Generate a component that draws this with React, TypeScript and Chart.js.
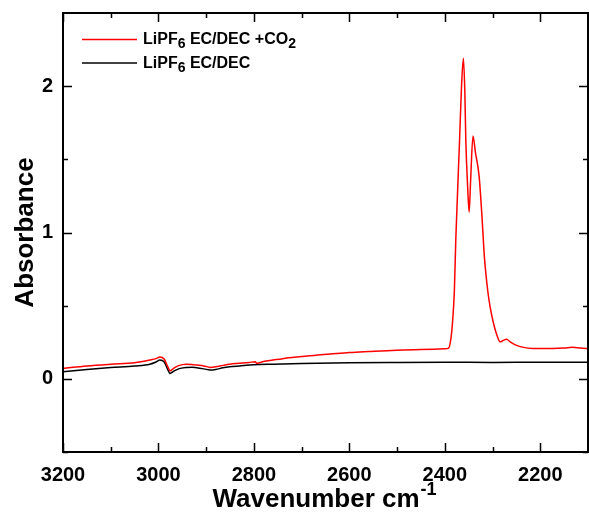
import React, { useEffect, useRef } from "react";
import { Chart, registerables } from "chart.js";

Chart.register(...registerables);

// Wavenumber (cm-1) and absorbance values
const co2Wavenumbers = [
  3200, 3150, 3100, 3050, 3018, 3005, 2997, 2988, 2980, 2976, 2968, 2958, 2941, 2930, 2920, 2905,
  2895, 2892, 2880, 2865, 2851, 2830, 2810, 2797, 2794, 2790, 2780, 2760, 2740, 2700, 2660, 2640,
  2600, 2560, 2502, 2450, 2400, 2392, 2387, 2384, 2380, 2377, 2373, 2369, 2365, 2361, 2358, 2356,
  2352, 2349, 2346, 2341, 2336, 2328, 2322, 2317, 2310, 2305, 2298, 2292, 2284, 2278, 2271, 2262,
  2251, 2235, 2216, 2174, 2150, 2133, 2115, 2100,
];
const co2Absorbance = [
  0.071, 0.088, 0.1, 0.11, 0.128, 0.138, 0.15, 0.135, 0.08, 0.055, 0.072, 0.09, 0.1, 0.098, 0.094, 0.088,
  0.08, 0.078, 0.082, 0.092, 0.1, 0.106, 0.112, 0.117, 0.106, 0.108, 0.118, 0.128, 0.138, 0.152, 0.165, 0.17,
  0.18, 0.187, 0.196, 0.2, 0.205, 0.21, 0.28, 0.38, 0.6, 0.95, 1.3, 1.64, 2.0, 2.19, 1.95, 1.63,
  1.3, 1.14, 1.35, 1.66, 1.55, 1.38, 1.1, 0.83, 0.6, 0.49, 0.38, 0.31, 0.253, 0.262, 0.27, 0.25,
  0.23, 0.215, 0.208, 0.207, 0.21, 0.215, 0.21, 0.207,
];

const baseWavenumbers = [
  3200, 3150, 3100, 3050, 3018, 3005, 2997, 2988, 2980, 2976, 2968, 2958, 2941, 2930, 2920, 2905,
  2895, 2892, 2880, 2865, 2851, 2830, 2800, 2760, 2700, 2600, 2500, 2400, 2300, 2200, 2100,
];
const baseAbsorbance = [
  0.048, 0.064, 0.077, 0.088, 0.1, 0.115, 0.128, 0.115, 0.06, 0.037, 0.052, 0.068, 0.078, 0.08, 0.076, 0.068,
  0.062, 0.06, 0.064, 0.075, 0.082, 0.088, 0.096, 0.1, 0.105, 0.11, 0.112, 0.113, 0.112, 0.114, 0.114,
];

const xTickValues = [3200, 3000, 2800, 2600, 2400, 2200];
const xMinorTicks = [3100, 2900, 2700, 2500, 2300];
const yTickValues = [0, 1, 2];
const yMinorTicks = [-0.5, 0.5, 1.5];

const seriesLabels = ["LiPF6 EC/DEC +CO2", "LiPF6 EC/DEC"];
const seriesColors = ["#ff0000", "#000000"];

const FONT = "'Liberation Sans', Arial, Helvetica, sans-serif";

const decorPlugin = {
  id: "decor",
  afterDraw(chart: any) {
    const { ctx, chartArea, scales } = chart;
    const { left, right, top, bottom } = chartArea;
    const xs = scales.x;
    const ys = scales.y;
    ctx.save();
    // frame
    ctx.strokeStyle = "#000";
    ctx.lineWidth = 2;
    ctx.strokeRect(left, top, right - left, bottom - top);
    // inward ticks
    ctx.lineWidth = 1.5;
    const major = 9;
    const minor = 5;
    const drawX = (v: number, len: number) => {
      const px = Math.round(xs.getPixelForValue(v)) + 0.5;
      ctx.beginPath();
      ctx.moveTo(px, bottom);
      ctx.lineTo(px, bottom - len);
      ctx.moveTo(px, top);
      ctx.lineTo(px, top + len);
      ctx.stroke();
    };
    const drawY = (v: number, len: number) => {
      const py = Math.round(ys.getPixelForValue(v)) + 0.5;
      ctx.beginPath();
      ctx.moveTo(left, py);
      ctx.lineTo(left + len, py);
      ctx.moveTo(right, py);
      ctx.lineTo(right - len, py);
      ctx.stroke();
    };
    xTickValues.forEach((v) => drawX(v, major));
    xMinorTicks.forEach((v) => drawX(v, minor));
    yTickValues.forEach((v) => drawY(v, major));
    yMinorTicks.forEach((v) => drawY(v, minor));

    // x axis title with superscript
    ctx.fillStyle = "#000";
    ctx.textBaseline = "alphabetic";
    ctx.textAlign = "left";
    const mainTxt = "Wavenumber cm";
    const supTxt = "-1";
    ctx.font = `bold 26px ${FONT}`;
    const wMain = ctx.measureText(mainTxt).width;
    ctx.font = `bold 18px ${FONT}`;
    const wSup = ctx.measureText(supTxt).width;
    const cx = 324;
    const startX = cx - (wMain + wSup) / 2;
    ctx.font = `bold 26px ${FONT}`;
    ctx.fillText(mainTxt, startX, 507);
    ctx.font = `bold 18px ${FONT}`;
    ctx.fillText(supTxt, startX + wMain + 1, 495);

    // y axis title
    ctx.save();
    ctx.translate(33, (top + bottom) / 2);
    ctx.rotate(-Math.PI / 2);
    ctx.textAlign = "center";
    ctx.font = `bold 26px ${FONT}`;
    ctx.fillText("Absorbance", 0, 0);
    ctx.restore();

    // legend
    const legendRows = [
      { lineY: 39.5, baseY: 44, color: seriesColors[0], label: seriesLabels[0] },
      { lineY: 63, baseY: 68, color: seriesColors[1], label: seriesLabels[1] },
    ];
    legendRows.forEach((row) => {
      ctx.strokeStyle = row.color;
      ctx.lineWidth = 1.5;
      ctx.beginPath();
      ctx.moveTo(82, row.lineY);
      ctx.lineTo(137, row.lineY);
      ctx.stroke();
      // split label: "LiPF" sub"6" " EC/DEC +CO" sub"2"
      const parts: { t: string; sub: boolean }[] = [];
      const m = row.label.match(/^(LiPF)(6)(.*?)(2?)$/);
      if (m) {
        parts.push({ t: m[1], sub: false });
        parts.push({ t: m[2], sub: true });
        parts.push({ t: m[3], sub: false });
        if (m[4]) parts.push({ t: m[4], sub: true });
      } else {
        parts.push({ t: row.label, sub: false });
      }
      let x = 143;
      ctx.fillStyle = "#000";
      parts.forEach((p) => {
        ctx.font = p.sub ? `bold 14px ${FONT}` : `bold 16px ${FONT}`;
        ctx.fillText(p.t, x, row.baseY + (p.sub ? 3.5 : 0));
        x += ctx.measureText(p.t).width;
      });
    });
    ctx.restore();
  },
};

export default function App() {
  const canvasRef = useRef<HTMLCanvasElement | null>(null);

  useEffect(() => {
    document.body.style.margin = "0";
    const canvas = canvasRef.current;
    if (!canvas) return;
    const chart = new Chart(canvas, {
      type: "line",
      data: {
        datasets: [
          {
            label: seriesLabels[0],
            data: co2Wavenumbers.map((x, i) => ({ x, y: co2Absorbance[i] })),
            borderColor: seriesColors[0],
            borderWidth: 1.5,
            pointRadius: 0,
            cubicInterpolationMode: "monotone",
            fill: false,
          },
          {
            label: seriesLabels[1],
            data: baseWavenumbers.map((x, i) => ({ x, y: baseAbsorbance[i] })),
            borderColor: seriesColors[1],
            borderWidth: 1.5,
            pointRadius: 0,
            cubicInterpolationMode: "monotone",
            fill: false,
          },
        ],
      },
      options: {
        responsive: false,
        animation: false,
        layout: { padding: { top: 13, right: 1, left: 0, bottom: 0 } },
        plugins: { legend: { display: false }, tooltip: { enabled: false } },
        scales: {
          x: {
            type: "linear",
            reverse: true,
            min: 2100,
            max: 3200,
            grid: { display: false, drawTicks: false },
            border: { display: false },
            ticks: {
              padding: 11,
              color: "#000",
              font: { family: FONT, size: 20, weight: "bold" },
              maxRotation: 0,
              callback: (v: any) => String(v),
            },
            afterBuildTicks: (scale: any) => {
              scale.ticks = xTickValues.map((v) => ({ value: v }));
            },
            afterFit: (scale: any) => {
              scale.height = 66;
              scale.paddingLeft = 0;
              scale.paddingRight = 0;
            },
          },
          y: {
            type: "linear",
            min: -0.5,
            max: 2.5,
            grid: { display: false, drawTicks: false },
            border: { display: false },
            ticks: {
              padding: 10,
              color: "#000",
              font: { family: FONT, size: 20, weight: "bold" },
              callback: (v: any) => String(v),
            },
            afterBuildTicks: (scale: any) => {
              scale.ticks = yTickValues.map((v) => ({ value: v }));
            },
            afterFit: (scale: any) => {
              scale.width = 63;
              scale.paddingTop = 0;
              scale.paddingBottom = 0;
            },
          },
        },
      },
      plugins: [decorPlugin],
    } as any);
    return () => chart.destroy();
  }, []);

  return (
    <div style={{ width: 589, height: 518 }}>
      <canvas ref={canvasRef} width={589} height={518} style={{ display: "block" }} />
    </div>
  );
}
